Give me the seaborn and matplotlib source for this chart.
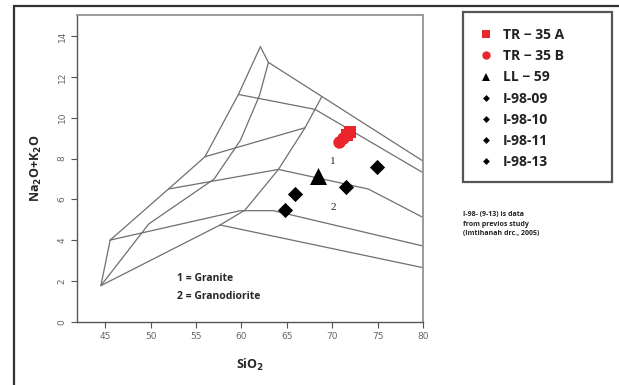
import matplotlib
matplotlib.use("Agg")
import matplotlib.pyplot as plt
import seaborn as sns
import pandas as pd
from matplotlib.patches import Rectangle
from matplotlib.lines import Line2D

# ---- classification field boundaries (SiO2, Na2O+K2O) ----
curve1_x = [45.55, 51.97, 55.99, 59.67, 62.09]
curve1_y = [4.01, 6.51, 8.09, 11.14, 13.48]
curve2_x = [44.53, 49.8, 57.0, 59.9, 62.0, 62.98]
curve2_y = [1.78, 4.8, 7.0, 8.9, 11.1, 12.71]
curve3_x = [44.53, 57.66, 60.4, 64.08, 67.01, 68.11, 68.85]
curve3_y = [1.78, 4.75, 5.48, 7.47, 9.51, 10.41, 11.03]
top_x = [62.09, 62.98, 80]
top_y = [13.48, 12.71, 7.88]
l2_x = [59.67, 68.11, 80]
l2_y = [11.14, 10.41, 7.31]
l3_x = [55.99, 67.01]
l3_y = [8.09, 9.51]
l4_x = [51.97, 64.08, 73.98, 80]
l4_y = [6.51, 7.47, 6.51, 5.12]
l5_x = [45.55, 59.86, 63.52, 80]
l5_y = [4.01, 5.45, 5.45, 3.72]
l6_x = [57.66, 80]
l6_y = [4.75, 2.66]
l7_x = [44.53, 45.55]
l7_y = [1.78, 4.01]

# ---- samples ----
sample_names = ["TR \u2212 35 A", "TR \u2212 35 A", "TR \u2212 35 B", "TR \u2212 35 B",
                "LL \u2212 59", "I-98-09", "I-98-10", "I-98-11", "I-98-13"]
sio2 = [71.6, 72.0, 70.8, 71.2, 68.4, 64.8, 65.9, 71.5, 74.9]
alk = [9.15, 9.3, 8.8, 9.0, 7.15, 5.5, 6.25, 6.6, 7.6]

legend_labels = ["TR \u2212 35 A", "TR \u2212 35 B", "LL \u2212 59",
                 "I-98-09", "I-98-10", "I-98-11", "I-98-13"]
x_ticks = [45, 50, 55, 60, 65, 70, 75, 80]
y_ticks = [0, 2, 4, 6, 8, 10, 12, 14]

sns.set_style("white")
plt.rcParams['font.family'] = ['DejaVu Sans']

fig = plt.figure(figsize=(6.19, 3.85), dpi=100)
ax = fig.add_axes([77/619, 63/385, 346/619, 307/385])

line_kw = dict(color="#6f6f6f", lw=0.9, zorder=1)
for xs, ys in [(curve1_x, curve1_y), (curve2_x, curve2_y), (curve3_x, curve3_y),
               (top_x, top_y), (l2_x, l2_y), (l3_x, l3_y), (l4_x, l4_y),
               (l5_x, l5_y), (l6_x, l6_y), (l7_x, l7_y)]:
    ax.plot(xs, ys, **line_kw)

df = pd.DataFrame({"sample": sample_names, "SiO2": sio2, "alk": alk})
style_map = {
    "TR \u2212 35 A": ("s", "#e8262b", 80),
    "TR \u2212 35 B": ("o", "#e8262b", 80),
    "LL \u2212 59": ("^", "black", 150),
    "I-98-09": ("D", "black", 60),
    "I-98-10": ("D", "black", 60),
    "I-98-11": ("D", "black", 60),
    "I-98-13": ("D", "black", 60),
}
for name in legend_labels:
    sub = df[df["sample"] == name]
    m, c, s = style_map[name]
    sns.scatterplot(data=sub, x="SiO2", y="alk", marker=m, color=c, s=s,
                    edgecolor=c, linewidth=0, ax=ax, zorder=3, legend=False)

ax.set_xlim(41.9, 80.0)
ax.set_ylim(0, 15.03)
ax.set_xticks(x_ticks)
ax.set_yticks(y_ticks)
ax.tick_params(axis="both", which="both", direction="out", length=4, width=0.8,
               color="#555555", labelsize=6.5, labelcolor="#666666", left=True, bottom=True)
for lab in ax.get_yticklabels():
    lab.set_rotation(90)
    lab.set_va("center")
for side in ["top", "right", "left", "bottom"]:
    ax.spines[side].set_color("#9a9a9a")
    ax.spines[side].set_linewidth(1.4)
ax.spines["left"].set_color("#555555")
ax.spines["bottom"].set_color("#555555")
ax.spines["left"].set_linewidth(1.0)
ax.spines["bottom"].set_linewidth(1.0)

ax.set_xlabel("SiO$_\\mathbf{2}$", fontsize=9, fontweight="bold", labelpad=11,
              family="Open Sans")
ax.set_ylabel("Na$_\\mathbf{2}$O+K$_\\mathbf{2}$O", fontsize=9, fontweight="bold",
              labelpad=10, family="Open Sans")

ax.text(70.1, 7.85, "1", fontsize=8, family="Liberation Serif", ha="center", va="center")
ax.text(70.1, 5.62, "2", fontsize=8, family="Liberation Serif", ha="center", va="center")
ax.text(52.9, 2.14, "1 = Granite", fontsize=7.5, fontweight="bold", family="Open Sans",
        ha="left", va="center")
ax.text(52.9, 1.24, "2 = Granodiorite", fontsize=7.5, fontweight="bold", family="Open Sans",
        ha="left", va="center")

# outer frame
fig.patches.append(Rectangle((14/619, -0.2), 1.2, 0.2 + (385-6)/385, transform=fig.transFigure,
                             fill=False, edgecolor="#333333", lw=1.6, clip_on=False))

# legend
handles = []
for name in legend_labels:
    m, c, s = style_map[name]
    ms = {"s": 5.5, "o": 6, "^": 6, "D": 3.5}[m]
    handles.append(Line2D([], [], marker=m, color=c, linestyle="", markersize=ms,
                          markeredgewidth=0))
leg = fig.legend(handles, legend_labels, loc="upper left",
                 bbox_to_anchor=(472/619, (385-21)/385), bbox_transform=fig.transFigure,
                 frameon=False, prop={"weight": "bold", "size": 10, "family": "Open Sans"},
                 labelspacing=0.52, handlelength=1.0, handletextpad=0.7, borderpad=0)
for t in leg.get_texts():
    t.set_color("#222222")
fig.patches.append(Rectangle((463/619, (385-182)/385), (612-463)/619, 170/385,
                             transform=fig.transFigure, fill=False, edgecolor="#555555", lw=1.6))

fig.text(463/619, (385-211)/385,
         "I-98- (9-13) is data\nfrom previos study\n(Imtihanah drc., 2005)",
         fontsize=5, fontweight="bold", family="Open Sans", ha="left", va="top",
         linespacing=1.55, color="#222222")

fig.savefig("out.png", dpi=100)
